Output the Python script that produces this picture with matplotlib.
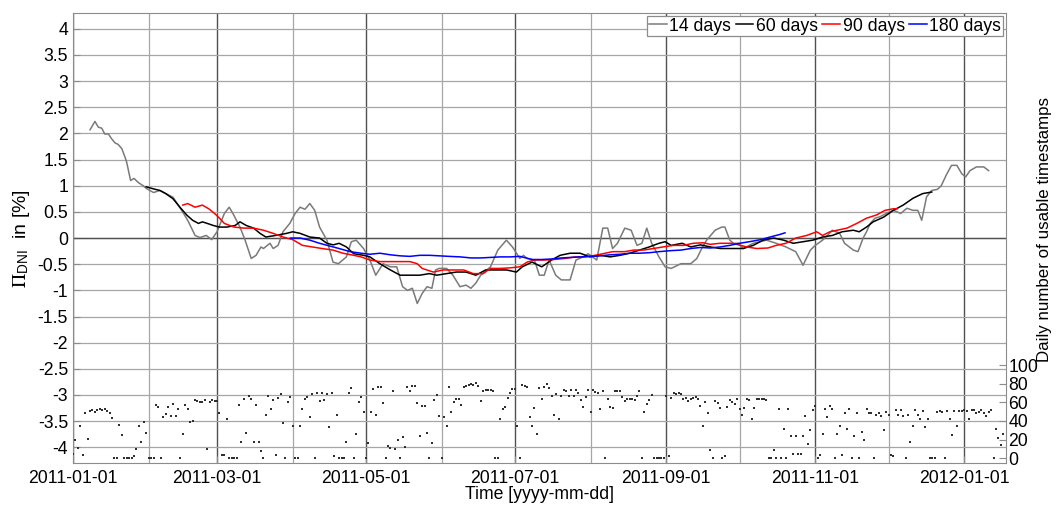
import matplotlib
matplotlib.use("Agg")
import matplotlib.pyplot as plt
import matplotlib.dates as mdates
import numpy as np
import pandas as pd

plt.rcParams["font.family"] = ["Liberation Sans", "DejaVu Sans"]
plt.rcParams["mathtext.fontset"] = "stix"

start = pd.Timestamp("2011-01-01")

# 14-day running value (day offset from 2011-01-01, value in %)
gray_days = [7, 9, 10.4, 11.8, 13, 14.5, 15.8, 17.2, 18.5, 20, 21.3, 22, 23.6, 25, 26.8,
             28.8, 30, 33, 35.6, 38, 41, 44.5, 47, 50, 52, 54.6, 56.8, 59, 62, 64, 65.5,
             68.4, 70.5, 73, 75, 77, 78, 80.7, 82, 84, 86, 88.8, 91, 93, 95, 97, 99, 101,
             104, 106.5, 108.7, 112, 114, 116, 119, 121.6, 124, 127, 130, 132.6, 135, 137,
             139, 141, 143, 145, 147, 148.5, 150, 153, 155.6, 158.5, 161, 163, 165, 167,
             171, 174, 177.5, 180, 183, 184.5, 186, 189, 191, 193, 195, 197.7, 200, 203.6,
             206, 209, 211, 214.5, 217, 219, 221, 223, 226, 228.6, 231, 233, 235, 237, 240,
             242.5, 245, 249, 253, 255.5, 257.5, 259.5, 263, 265.7, 267, 269, 270.5, 272.5,
             274.5, 278.6, 284, 288, 292, 296, 299, 302, 304, 307, 309, 311, 314, 316,
             319.6, 321.5, 323.6, 325, 326.5, 328.5, 330.6, 333, 336, 339, 341.5, 344, 346,
             347.6, 349.6, 351.7, 354, 355.6, 357.6, 359.8, 362, 364, 365.6, 367.4, 370,
             373, 375]
gray_vals = [2.07, 2.23, 2.12, 2.10, 1.99, 1.99, 1.90, 1.82, 1.79, 1.71, 1.55, 1.45, 1.10,
             1.14, 1.06, 1.00, 0.95, 0.87, 0.91, 0.85, 0.78, 0.53, 0.34, 0.05, 0.01, 0.05,
             -0.03, 0.12, 0.47, 0.59, 0.47, 0.21, -0.04, -0.39, -0.33, -0.17, -0.20, -0.10,
             -0.20, -0.14, 0.12, 0.28, 0.47, 0.59, 0.55, 0.66, 0.53, 0.21, -0.04, -0.46,
             -0.49, -0.36, -0.07, -0.04, -0.20, -0.42, -0.71, -0.49, -0.55, -0.55, -0.93,
             -1.00, -0.96, -1.25, -1.06, -0.93, -0.96, -0.61, -0.58, -0.58, -0.71, -0.93,
             -0.90, -0.96, -0.86, -0.71, -0.55, -0.23, -0.04, -0.17, -0.39, -0.33, -0.39,
             -0.42, -0.71, -0.71, -0.42, -0.71, -0.80, -0.80, -0.42, -0.36, -0.30, -0.42,
             0.19, 0.19, -0.20, -0.10, 0.19, 0.15, -0.14, -0.10, 0.19, -0.10, -0.36, -0.55,
             -0.58, -0.49, -0.49, -0.39, -0.20, -0.04, 0.15, 0.21, 0.21, -0.04, -0.10, -0.10,
             -0.20, -0.10, -0.04, -0.10, -0.17, -0.26, -0.52, -0.23, -0.14, -0.04, 0.05,
             0.15, 0.09, -0.10, -0.23, -0.26, 0.00, 0.12, 0.28, 0.38, 0.41, 0.47, 0.53, 0.47,
             0.57, 0.53, 0.53, 0.34, 0.79, 0.91, 0.93, 1.00, 1.20, 1.39, 1.39, 1.23, 1.17,
             1.29, 1.36, 1.36, 1.29]

# 60-day running value
black_days = [30, 33, 35.6, 38, 41, 43.8, 46.6, 49, 51.4, 53, 55, 57.5, 60, 63, 66.4, 68.4,
              71, 74, 76.6, 79, 83, 87.5, 90, 93, 97, 101, 104, 106.6, 109, 112, 115, 119,
              121.6, 125.7, 130, 134, 138, 142, 146, 149, 153, 157, 161, 165, 169, 173,
              177.6, 181.6, 184, 188, 192, 196, 199.5, 203.6, 207.7, 211.7, 216, 220, 224,
              228, 232, 236, 240, 242.5, 245, 249.5, 253, 257, 261, 265, 269, 274.5, 278.6,
              282.6, 287, 291, 295, 299, 303, 307, 311, 315, 319.6, 322, 325, 327.7, 332,
              336, 340, 344, 348, 351.7]
black_vals = [0.98, 0.94, 0.91, 0.85, 0.75, 0.59, 0.44, 0.34, 0.28, 0.31, 0.28, 0.24, 0.21,
              0.21, 0.24, 0.31, 0.24, 0.19, 0.09, 0.02, 0.05, 0.09, 0.12, 0.09, 0.02, 0.00,
              -0.10, -0.13, -0.10, -0.17, -0.30, -0.33, -0.36, -0.49, -0.61, -0.71, -0.71,
              -0.71, -0.68, -0.71, -0.68, -0.65, -0.65, -0.71, -0.61, -0.61, -0.61, -0.65,
              -0.55, -0.46, -0.55, -0.42, -0.33, -0.29, -0.29, -0.36, -0.33, -0.36, -0.33,
              -0.29, -0.23, -0.17, -0.10, -0.07, -0.14, -0.10, -0.17, -0.13, -0.17, -0.20,
              -0.20, -0.20, -0.14, -0.04, 0.00, -0.04, -0.10, -0.07, -0.04, 0.02, 0.05, 0.12,
              0.15, 0.12, 0.21, 0.31, 0.40, 0.53, 0.63, 0.76, 0.85, 0.88]

# 90-day running value
red_days = [45, 47, 50, 53, 55.6, 58, 60, 62, 66, 70, 74, 78, 82, 86, 90, 94, 98, 102, 106.5,
            110.6, 115, 118, 121.6, 125.7, 130, 134, 138, 141, 143, 147.6, 151.6, 155.6, 160,
            164, 168, 171, 175, 179, 183, 186, 189, 193, 197, 201.6, 205.7, 209.7, 213.8,
            218, 221, 226, 229.6, 233.7, 237.7, 241.6, 246, 250, 254, 258, 261, 265, 270,
            276, 280, 284.6, 288, 292, 296, 300.5, 304.6, 307, 310, 313, 317, 321, 325, 329,
            332.6, 336, 337.5]
red_vals = [0.63, 0.66, 0.59, 0.63, 0.56, 0.47, 0.38, 0.28, 0.21, 0.19, 0.19, 0.15, 0.09,
            0.02, -0.03, -0.14, -0.17, -0.20, -0.23, -0.29, -0.33, -0.36, -0.42, -0.45,
            -0.45, -0.45, -0.45, -0.49, -0.58, -0.65, -0.61, -0.61, -0.61, -0.68, -0.68,
            -0.58, -0.58, -0.57, -0.55, -0.46, -0.42, -0.42, -0.41, -0.39, -0.36, -0.36,
            -0.33, -0.29, -0.26, -0.26, -0.23, -0.23, -0.20, -0.17, -0.14, -0.14, -0.10,
            -0.09, -0.12, -0.10, -0.10, -0.17, -0.20, -0.19, -0.14, -0.10, 0.00, 0.05, 0.12,
            0.05, 0.12, 0.15, 0.19, 0.28, 0.38, 0.44, 0.53, 0.56, 0.56]

# 180-day running value
blue_days = [89, 93, 97, 101, 105, 109, 113.5, 118, 121.6, 125.7, 130, 134, 138, 142, 146,
             150, 154, 158.6, 163, 167, 171, 175, 179, 183, 188, 192, 196, 200, 204, 208,
             212, 216, 220, 224, 228, 232, 236, 240, 245, 249, 253, 257, 261, 265, 269, 273,
             277, 281.7, 285.5, 289.6, 291.6]
blue_vals = [0.00, 0.00, -0.04, -0.10, -0.15, -0.20, -0.26, -0.29, -0.31, -0.29, -0.32,
             -0.34, -0.35, -0.33, -0.33, -0.34, -0.35, -0.36, -0.38, -0.38, -0.37, -0.36,
             -0.36, -0.35, -0.41, -0.41, -0.40, -0.38, -0.37, -0.36, -0.35, -0.34, -0.32,
             -0.31, -0.29, -0.29, -0.28, -0.26, -0.24, -0.23, -0.20, -0.18, -0.19, -0.17,
             -0.14, -0.10, -0.07, -0.03, 0.02, 0.07, 0.10]

# daily number of usable timestamps, one value per day from 2011-01-01
counts_jan = [4, 19, 11, 34, 3, 48, 21, 51, 52, 50, 52, 53, 52, 53, 51, 48, 43, 0, 0, 36,
              25, 0, 0, 0, 0, 2, 10, 35, 17, 39, 27]
counts_feb = [0, 0, 0, 57, 55, 0, 44, 47, 55, 45, 58, 45, 53, 0, 26, 57, 53, 39, 40, 62, 61,
              60, 60, 62, 10, 60, 62, 61]
counts_mar = [61, 49, 3, 3, 42, 0, 0, 0, 0, 57, 17, 64, 27, 67, 64, 17, 57, 17, 8, 0, 46, 67,
              53, 62, 3, 65, 69, 38, 0, 60, 66]
counts_apr = [35, 0, 0, 35, 53, 64, 66, 44, 69, 0, 70, 61, 70, 62, 69, 33, 70, 2, 46, 0, 0,
              0, 17, 70, 75, 0, 26, 60, 66, 50]
counts_may = [0, 16, 50, 74, 46, 76, 76, 59, 0, 13, 11, 72, 10, 20, 0, 23, 12, 76, 72, 78,
              78, 59, 24, 56, 56, 27, 0, 16, 62, 68, 45]
counts_jun = [0, 44, 35, 76, 50, 60, 64, 63, 57, 76, 78, 79, 80, 79, 81, 77, 61, 72, 73, 73,
              73, 72, 0, 0, 42, 53, 55, 65, 70, 74]
counts_jul = [74, 35, 0, 79, 78, 76, 44, 35, 54, 26, 75, 64, 76, 80, 75, 67, 46, 69, 42, 67,
              73, 72, 67, 73, 67, 73, 70, 62, 55, 66, 73]
counts_aug = [50, 73, 71, 70, 53, 72, 0, 64, 55, 54, 72, 72, 72, 66, 61, 63, 64, 63, 62, 67,
              72, 0, 50, 58, 62, 68, 0, 0, 0, 0, 0]
counts_sep = [67, 2, 65, 70, 69, 70, 69, 63, 65, 61, 64, 65, 66, 63, 56, 35, 60, 49, 9, 0, 61,
              59, 54, 0, 2, 55, 62, 60, 58, 64]
counts_oct = [53, 46, 54, 63, 62, 42, 54, 63, 63, 63, 63, 62, 0, 0, 9, 0, 53, 0, 31, 0, 53,
              24, 4, 24, 4, 4, 24, 45, 15, 30, 52]
counts_nov = [56, 0, 3, 26, 53, 44, 56, 53, 0, 26, 35, 3, 49, 31, 53, 0, 24, 49, 0, 28, 20,
              53, 49, 48, 0, 46, 49, 45, 30, 50]
counts_dec = [46, 3, 2, 52, 46, 52, 45, 0, 46, 17, 35, 52, 46, 42, 51, 33, 42, 0, 0, 0, 50,
              51, 50, 0, 51, 42, 25, 51, 35, 51, 51]
counts_jan12 = [52, 51, 42, 52, 52, 48, 50, 52, 49, 45, 50, 52, 0, 31, 22, 14, 26]

labels = ["14 days", "60 days", "90 days", "180 days"]
colors = ["#7a7a7a", "black", "red", "blue"]


def to_dates(days):
    return start + pd.to_timedelta(np.array(days, dtype=float), unit="D")


counts = (counts_jan + counts_feb + counts_mar + counts_apr + counts_may + counts_jun
          + counts_jul + counts_aug + counts_sep + counts_oct + counts_nov + counts_dec
          + counts_jan12)
count_dates = to_dates(np.arange(len(counts)))

fig = plt.figure(figsize=(10.62, 5.05), dpi=100)
ax = fig.add_axes([0.0687, 0.0832, 0.8783, 0.8908])

grid_light = "#a6a6a6"
grid_dark = "#505050"

series = [(gray_days, gray_vals), (black_days, black_vals),
          (red_days, red_vals), (blue_days, blue_vals)]
for (d, v), lab, c in zip(series, labels, colors):
    ax.plot(to_dates(d), v, color=c, lw=1.1, label=lab, zorder=3)

ax.set_ylim(-4.3, 4.3)
ax.set_yticks(np.arange(-4, 4.01, 0.5))
ax.set_yticklabels([f"{t:g}" for t in np.arange(-4, 4.01, 0.5)])
ax.set_xlim(start, start + pd.Timedelta(days=382))
ax.xaxis.set_major_locator(mdates.MonthLocator(bymonth=[1, 3, 5, 7, 9, 11]))
ax.xaxis.set_minor_locator(mdates.MonthLocator())
ax.xaxis.set_major_formatter(mdates.DateFormatter("%Y-%m-%d"))

ax.grid(True, which="major", axis="y", color=grid_light, lw=0.9)
ax.grid(True, which="major", axis="x", color=grid_dark, lw=1.0)
ax.grid(True, which="minor", axis="x", color=grid_light, lw=0.9)
ax.axhline(0, color=grid_dark, lw=1.0, zorder=1)
ax.set_axisbelow(True)

for s in ax.spines.values():
    s.set_color("#8c8c8c")
ax.tick_params(axis="both", which="both", direction="in", labelsize=12.7,
               color="#8c8c8c", length=5)
ax.tick_params(axis="y", right=True)
ax.tick_params(axis="x", which="minor", length=0)
ax.tick_params(axis="x", pad=5)

ax.set_xlabel("Time [yyyy-mm-dd]", fontsize=12.7, labelpad=-1)
ax.set_ylabel(r"$\Pi_{\mathregular{DNI}}$  in [%]", fontsize=14, labelpad=4)

leg = ax.legend(loc="upper right", ncol=4, fontsize=12.7, frameon=True, fancybox=False,
                edgecolor="#8c8c8c", framealpha=1, borderpad=0.1, handlelength=1.0,
                handletextpad=0.15, columnspacing=0.25, borderaxespad=0.15)
leg.get_frame().set_linewidth(0.9)

# right axis: daily number of usable timestamps
ax2 = ax.twinx()
ax2.scatter(count_dates, counts, s=1.2, marker="s", color="#303030", linewidths=0,
            zorder=4)
ax2.set_ylim(-5.2, 478)
ax2.set_yticks(np.arange(0, 101, 20))
ax2.tick_params(axis="y", direction="in", labelsize=12.7, color="#8c8c8c", length=5, pad=2)
for s in ax2.spines.values():
    s.set_visible(False)
ax2.set_ylabel("Daily number of usable timestamps", fontsize=12.2)
ax2.yaxis.set_label_coords(1.034, 0.52)

fig.savefig("out.png", dpi=100)
